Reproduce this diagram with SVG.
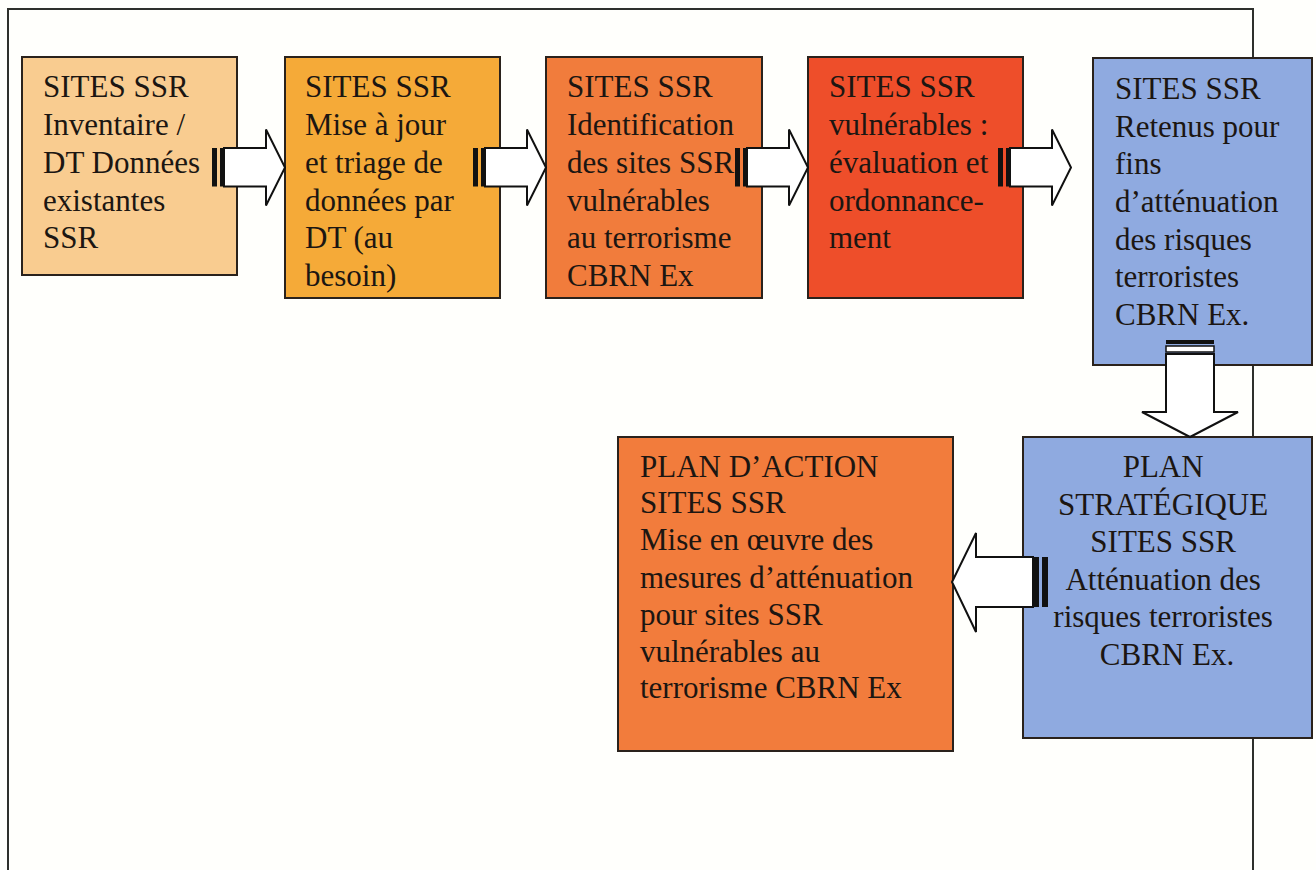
<svg xmlns="http://www.w3.org/2000/svg" width="1316" height="870" viewBox="0 0 1316 870">
  <defs>
    <style>
      .box { stroke: #2a221c; stroke-width: 2; }
      .lbl { font-family: "Liberation Serif", "Times New Roman", serif; font-size: 31px; fill: #1c1612; }
      .mid { text-anchor: middle; }
      .arrow { fill: #ffffff; stroke: #111111; stroke-width: 2; stroke-linejoin: miter; }
      .bar { fill: #111111; }
      .frame { fill: none; stroke: #2e302c; stroke-width: 2; }
    </style>
    <!-- striped block arrow pointing right, tail at x=0, axis at y=0 -->
    <g id="stripedRight">
      <rect class="bar" x="0" y="-19.5" width="5" height="38.5"/>
      <rect class="bar" x="8" y="-19.5" width="3.5" height="38.5"/>
      <path class="arrow" d="M12,-19.5 H54 V-38 L73,0 L54,38 V19 H12 Z"/>
    </g>
  </defs>

  <rect x="0" y="0" width="1316" height="870" fill="#fffffc"/>

  <!-- page frame -->
  <path class="frame" d="M8,872 V9 H1253 V872"/>

  <g id="node-inventaire">
    <rect class="box" x="22" y="57" width="215" height="218" fill="#f9cc90"/>
    <text class="lbl">
      <tspan x="43" y="97">SITES SSR</tspan>
      <tspan x="43" y="135">Inventaire /</tspan>
      <tspan x="43" y="173">DT Données</tspan>
      <tspan x="43" y="211">existantes</tspan>
      <tspan x="43" y="248">SSR</tspan>
    </text>
  </g>

  <g id="node-mise-a-jour">
    <rect class="box" x="285" y="57" width="215" height="241" fill="#f5aa38"/>
    <text class="lbl">
      <tspan x="305" y="97">SITES SSR</tspan>
      <tspan x="305" y="135">Mise à jour</tspan>
      <tspan x="305" y="173">et triage de</tspan>
      <tspan x="305" y="211">données par</tspan>
      <tspan x="305" y="248">DT (au</tspan>
      <tspan x="305" y="286">besoin)</tspan>
    </text>
  </g>

  <g id="node-identification">
    <rect class="box" x="546" y="57" width="216" height="241" fill="#f17c3c"/>
    <text class="lbl">
      <tspan x="567" y="97">SITES SSR</tspan>
      <tspan x="567" y="135">Identification</tspan>
      <tspan x="567" y="173">des sites SSR</tspan>
      <tspan x="567" y="211">vulnérables</tspan>
      <tspan x="567" y="248">au terrorisme</tspan>
      <tspan x="567" y="286">CBRN Ex</tspan>
    </text>
  </g>

  <g id="node-evaluation">
    <rect class="box" x="808" y="57" width="215" height="241" fill="#ee4e2a"/>
    <text class="lbl">
      <tspan x="829" y="97">SITES SSR</tspan>
      <tspan x="829" y="135">vulnérables :</tspan>
      <tspan x="829" y="173">évaluation et</tspan>
      <tspan x="829" y="211">ordonnance-</tspan>
      <tspan x="829" y="248">ment</tspan>
    </text>
  </g>

  <g id="node-retenus">
    <rect class="box" x="1093" y="58" width="219" height="307" fill="#8faae0"/>
    <text class="lbl">
      <tspan x="1115" y="99">SITES SSR</tspan>
      <tspan x="1115" y="137">Retenus pour</tspan>
      <tspan x="1115" y="174">fins</tspan>
      <tspan x="1115" y="212">d’atténuation</tspan>
      <tspan x="1115" y="250">des risques</tspan>
      <tspan x="1115" y="287">terroristes</tspan>
      <tspan x="1115" y="325">CBRN Ex.</tspan>
    </text>
  </g>

  <g id="node-plan-strategique">
    <rect class="box" x="1023" y="437" width="289" height="301" fill="#8faae0"/>
    <text class="lbl mid">
      <tspan x="1167" y="477">PLAN</tspan>
      <tspan x="1167" y="515">STRATÉGIQUE</tspan>
      <tspan x="1167" y="552">SITES SSR</tspan>
      <tspan x="1167" y="590">Atténuation des</tspan>
      <tspan x="1167" y="627">risques terroristes</tspan>
      <tspan x="1167" y="665">CBRN Ex.</tspan>
    </text>
  </g>

  <g id="node-plan-action">
    <rect class="box" x="618" y="437" width="335" height="314" fill="#f27c3c"/>
    <text class="lbl">
      <tspan x="640" y="477">PLAN D’ACTION</tspan>
      <tspan x="640" y="513">SITES SSR</tspan>
      <tspan x="640" y="550">Mise en œuvre des</tspan>
      <tspan x="640" y="588">mesures d’atténuation</tspan>
      <tspan x="640" y="625">pour sites SSR</tspan>
      <tspan x="640" y="662">vulnérables au</tspan>
      <tspan x="640" y="698">terrorisme CBRN Ex</tspan>
    </text>
  </g>

  <g id="connectors">
    <use href="#stripedRight" transform="translate(212,167.5)"/>
    <use href="#stripedRight" transform="translate(473,167.5)"/>
    <use href="#stripedRight" transform="translate(735,167.5)"/>
    <use href="#stripedRight" transform="translate(998,167.5)"/>

    <!-- downward striped arrow -->
    <g>
      <rect class="bar" x="1166" y="340" width="48" height="4"/>
      <rect x="1166" y="346" width="48" height="6" fill="#ffffff" stroke="#111111" stroke-width="1.5"/>
      <path class="arrow" d="M1166,354 H1214 V412 H1238 L1190,437 L1142,412 H1166 Z"/>
    </g>

    <!-- leftward striped arrow -->
    <g>
      <rect class="bar" x="1042" y="557" width="6" height="50"/>
      <rect class="bar" x="1034" y="557" width="5" height="50"/>
      <path class="arrow" d="M1033,557 H976 V533 L952,582 L976,632 V607 H1033 Z"/>
    </g>
  </g>
</svg>
